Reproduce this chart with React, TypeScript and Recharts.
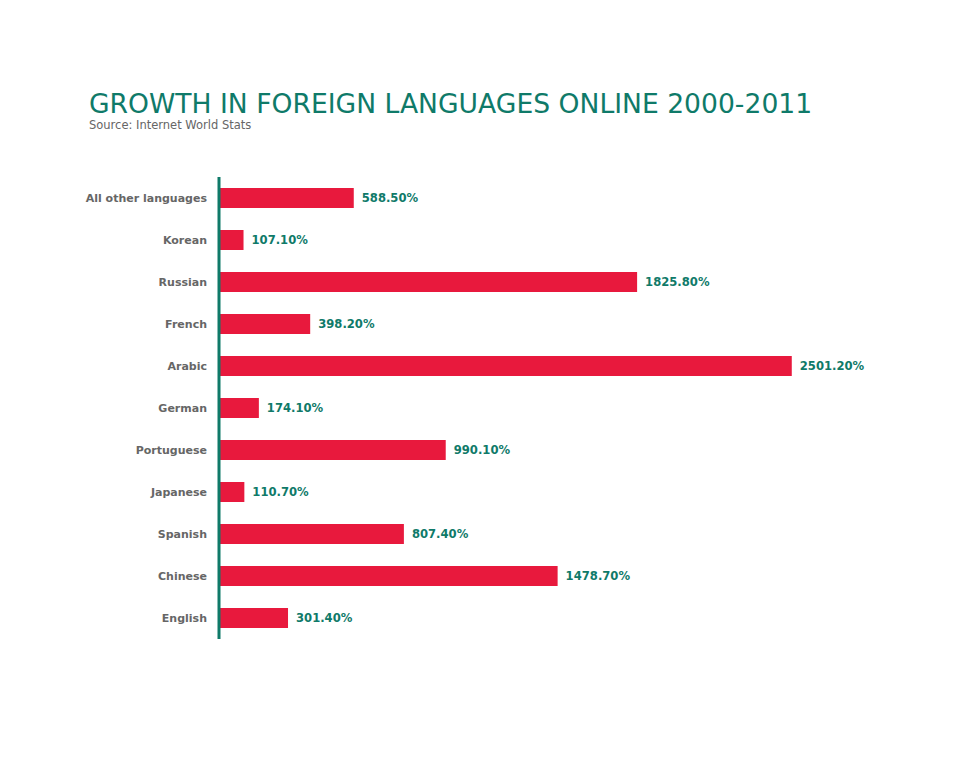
import React from 'react';
import { BarChart, Bar, XAxis, YAxis, LabelList } from 'recharts';

const languages = [
  'All other languages',
  'Korean',
  'Russian',
  'French',
  'Arabic',
  'German',
  'Portuguese',
  'Japanese',
  'Spanish',
  'Chinese',
  'English',
];
const growth = [588.5, 107.1, 1825.8, 398.2, 2501.2, 174.1, 990.1, 110.7, 807.4, 1478.7, 301.4];

const data = languages.map((name, i) => ({ name, value: growth[i] }));

const TEAL = '#0f7a69';
const RED = '#e8193d';
const FONT = 'Verdana, "DejaVu Sans", sans-serif';

export default function App() {
  return (
    <div style={{ position: 'absolute', left: 0, top: 0, width: 980, height: 757, background: '#fff', fontFamily: FONT }}>
      <div style={{ position: 'absolute', left: 89, top: 88, fontSize: 26.6, color: TEAL, whiteSpace: 'nowrap', lineHeight: '32px' }}>
        GROWTH IN FOREIGN LANGUAGES ONLINE 2000-2011
      </div>
      <div style={{ position: 'absolute', left: 89, top: 117, fontSize: 11.5, color: '#666', whiteSpace: 'nowrap', lineHeight: '16px' }}>
        Source: Internet World Stats
      </div>
      <div style={{ position: 'absolute', left: 0, top: 0 }}>
        <BarChart
          width={980}
          height={757}
          data={data}
          layout="vertical"
          margin={{ top: 177, right: 74, bottom: 118, left: 0 }}
          barCategoryGap={11}
        >
          <XAxis type="number" domain={[0, 3000]} hide />
          <YAxis
            type="category"
            dataKey="name"
            width={219}
            axisLine={{ stroke: TEAL, strokeWidth: 3 }}
            tickLine={false}
            tickMargin={6}
            tick={{ fill: '#666', fontSize: 11, fontWeight: 'bold', fontFamily: FONT }}
          />
          <Bar dataKey="value" fill={RED} isAnimationActive={false}>
            <LabelList
              dataKey="value"
              position="right"
              offset={8}
              formatter={(v: number) => `${v.toFixed(2)}%`}
              style={{ fill: TEAL, fontSize: 11.6, fontWeight: 'bold', fontFamily: FONT }}
            />
          </Bar>
        </BarChart>
      </div>
    </div>
  );
}
